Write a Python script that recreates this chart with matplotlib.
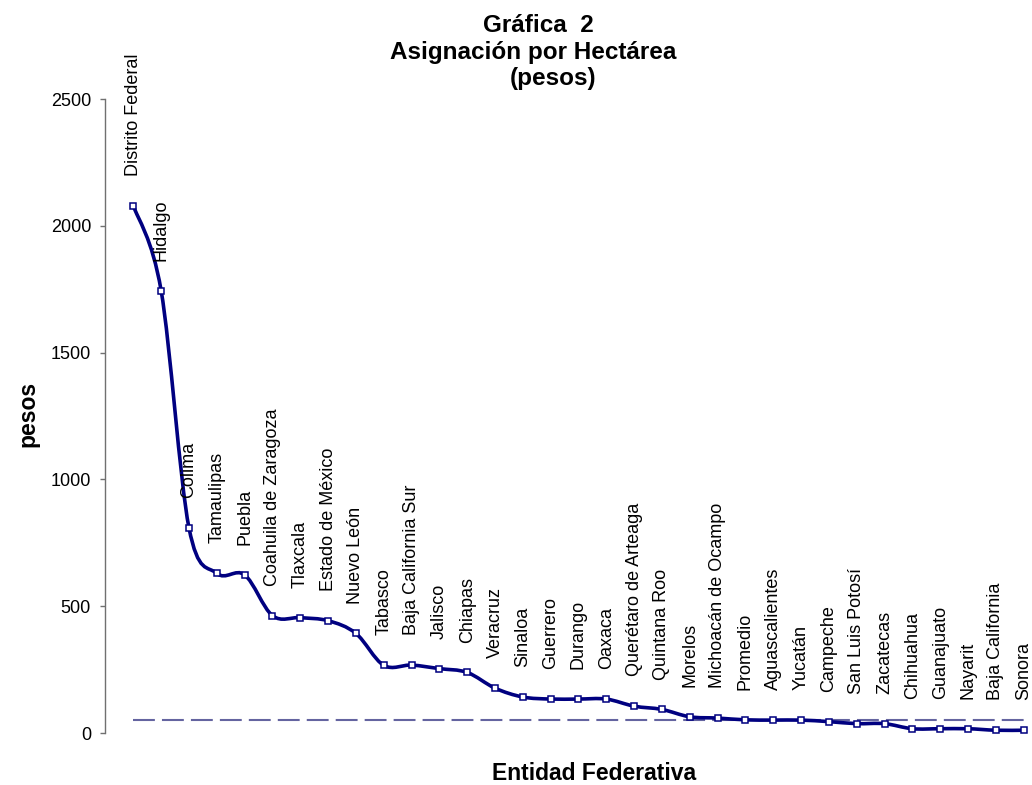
import matplotlib
matplotlib.use('Agg')
import matplotlib.pyplot as plt
from matplotlib.path import Path
from matplotlib.patches import PathPatch

plt.rcParams['font.family'] = ['Liberation Sans', 'DejaVu Sans']

entidades = ['Distrito Federal', 'Hidalgo', 'Colima', 'Tamaulipas', 'Puebla',
             'Coahuila de Zaragoza', 'Tlaxcala', 'Estado de México', 'Nuevo León',
             'Tabasco', 'Baja California Sur', 'Jalisco', 'Chiapas', 'Veracruz',
             'Sinaloa', 'Guerrero', 'Durango', 'Oaxaca', 'Querétaro de Arteaga',
             'Quintana Roo', 'Morelos', 'Michoacán de Ocampo', 'Promedio',
             'Aguascalientes', 'Yucatán', 'Campeche', 'San Luis Potosí',
             'Zacatecas', 'Chihuahua', 'Guanajuato', 'Nayarit', 'Baja California',
             'Sonora']
asignacion = [2080, 1745, 810, 630, 624, 463, 455, 443, 393, 267, 268, 254, 239,
              177, 142, 134, 134, 134, 106, 93, 64, 59, 52, 51, 51, 45, 37, 37,
              17, 17, 17, 11, 11]
promedio = 52
yticks = [0, 500, 1000, 1500, 2000, 2500]


def smooth_path(xs, ys):
    # bezier segments, like the smoothed line of a spreadsheet chart
    n = len(xs)
    verts = [(xs[0], ys[0])]
    codes = [Path.MOVETO]
    for i in range(n - 1):
        a = max(i - 1, 0)
        b = min(i + 2, n - 1)
        c1 = (xs[i] + (xs[i + 1] - xs[a]) / 6.0, ys[i] + (ys[i + 1] - ys[a]) / 6.0)
        c2 = (xs[i + 1] - (xs[b] - xs[i]) / 6.0, ys[i + 1] - (ys[b] - ys[i]) / 6.0)
        verts += [c1, c2, (xs[i + 1], ys[i + 1])]
        codes += [Path.CURVE4] * 3
    return Path(verts, codes)


fig = plt.figure(figsize=(10.32, 7.85), dpi=100)
ax = fig.add_axes([0.1022, 0.0662, 0.8978, 0.8076])

x = list(range(len(entidades)))

# linea del promedio
ax.plot([x[0], x[-1]], [promedio, promedio], color='#6464a0', lw=1.5,
        linestyle=(0, (10.5, 3.4)), zorder=1)

ax.add_patch(PathPatch(smooth_path(x, asignacion), fill=False,
                       edgecolor='#000080', lw=2.6, zorder=2))
ax.plot(x, asignacion, linestyle='none', marker='s', markersize=5,
        markerfacecolor='white', markeredgecolor='#000080', markeredgewidth=1.1,
        zorder=3)

for xi, v, nombre in zip(x, asignacion, entidades):
    ax.annotate(nombre, xy=(xi, v), xytext=(0, 21.5), textcoords='offset points',
                rotation=90, ha='center', va='bottom', fontsize=13)

ax.set_xlim(-1, 32.3)
ax.set_ylim(0, 2500)
ax.set_yticks(yticks)
ax.set_xticks([])
for s in ['top', 'right', 'bottom']:
    ax.spines[s].set_visible(False)
ax.spines['left'].set_color('#707070')
ax.spines['left'].set_linewidth(1.0)
ax.tick_params(axis='y', direction='out', length=3.6, width=1.0, color='#707070',
               pad=6.8, labelsize=13)

W, H = 1032.0, 785.0
fig.text(538 / W, 1 - 31.7 / H, 'Gráfica  2', ha='center', va='baseline',
         fontsize=17.5, fontweight='bold')
fig.text(533.5 / W, 1 - 59.3 / H, 'Asignación por Hectárea', ha='center',
         va='baseline', fontsize=17.5, fontweight='bold')
fig.text(553 / W, 1 - 85 / H, '(pesos)', ha='center', va='baseline',
         fontsize=17.5, fontweight='bold')
fig.text(594 / W, 1 - 780 / H, 'Entidad Federativa', ha='center', va='baseline',
         fontsize=16.5, fontweight='bold')
fig.text(28 / W, 1 - 414 / H, 'pesos', ha='center', va='center', rotation=90,
         fontsize=16.5, fontweight='bold')

fig.savefig('out.png', dpi=100)
